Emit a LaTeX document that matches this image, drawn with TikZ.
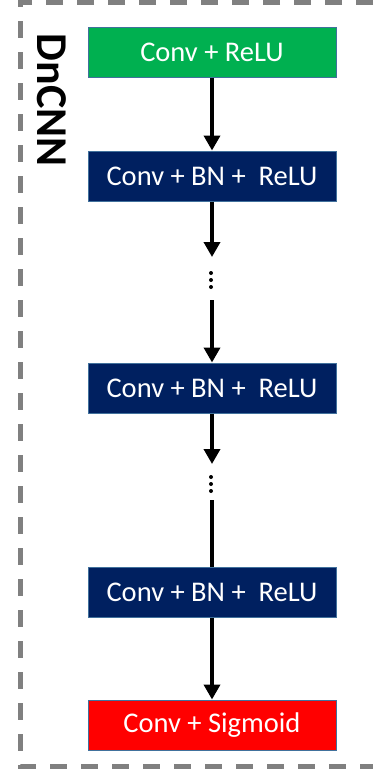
\documentclass[tikz,border=0pt]{standalone}
\usepackage{fontspec}
\setmainfont{Carlito}
\usetikzlibrary{arrows.meta}
\definecolor{cgreen}{HTML}{00B050}
\definecolor{cnavy}{HTML}{002060}
\definecolor{cred}{HTML}{FF0000}
\definecolor{cedge}{HTML}{41719C}
\definecolor{cgray}{HTML}{808080}
\tikzset{
  layer/.style={draw=cedge, line width=1pt, minimum width=248pt, minimum height=50pt,
    inner sep=0pt, text=white, font=\fontsize{28.5}{30}\selectfont},
  flow/.style={line width=3.6pt, -{Triangle[width=16pt,length=15pt]}},
  plain/.style={line width=3.6pt},
  vdot/.style={fill=black, draw=none},
  frame/.style={draw=cgray, line width=5pt, dash pattern=on 17pt off 14pt}
}
\begin{document}
\begin{tikzpicture}[x=1pt, y=-1pt]
\useasboundingbox (0,0) rectangle (373,772);
\draw[frame] (373,2) -- (20,2) -- (20,766) -- (373,766);
\node[inner sep=0pt, rotate=-90, font=\fontsize{44}{46}\selectfont\bfseries] (title) at (52,100) {DnCNN};
\node[layer, fill=cgreen] (n1) at (212,52) {Conv + ReLU};
\node[layer, fill=cnavy] (n2) at (212,176) {Conv + BN +\ \ ReLU};
\node[layer, fill=cnavy] (n3) at (212,388) {Conv + BN +\ \ ReLU};
\node[layer, fill=cnavy] (n4) at (212,592) {Conv + BN +\ \ ReLU};
\node[layer, fill=cred] (n5) at (212,725) {Conv + Sigmoid};
\coordinate (a2) at (212,257);
\coordinate (b2) at (212,300);
\coordinate (a3) at (212,464);
\coordinate (b3) at (212,500);
\draw[flow] (n1.south) -- (n2.north);
\draw[flow] (n2.south) -- (a2);
\foreach \y in {273,280,287} \fill[vdot] (211,\y) circle (2pt);
\draw[flow] (b2) -- (n3.north);
\draw[flow] (n3.south) -- (a3);
\foreach \y in {477,484,491} \fill[vdot] (211,\y) circle (2pt);
\draw[plain] (b3) -- (n4.north);
\draw[flow] (n4.south) -- (n5.north);
\end{tikzpicture}
\end{document}
